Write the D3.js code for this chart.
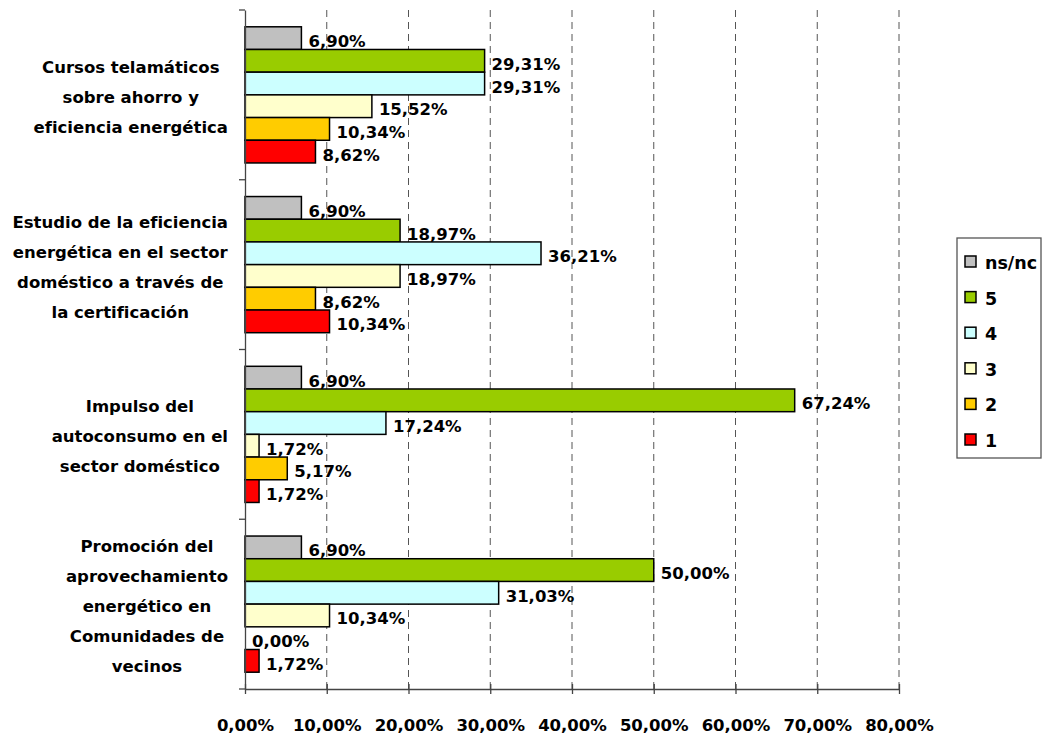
<!DOCTYPE html>
<meta charset="utf-8">
<html lang="es">
<style>

    body {
        margin: 0;
        background: #fff;
        font: bold 16.5px "DejaVu Sans", sans-serif;
    }

    text {
        font-family: "DejaVu Sans", sans-serif;
        font-weight: bold;
        font-size: 16.5px;
        fill: #000;
    }

    .grid line {
        stroke: #555;
        stroke-width: 1;
        stroke-dasharray: 7, 5;
    }

    .bar {
        stroke: #000;
        stroke-width: 1.5px;
    }

</style>

<head>
    <meta charset="UTF-8">
    <script src="https://d3js.org/d3.v7.min.js"></script>
</head>
<body>
<svg width="1043" height="738"></svg>
</body>
<script>

    // categories (top to bottom) and their wrapped label lines
    var categories = ["Cursos", "Estudio", "Impulso", "Promocion"];
    var categoryLines = [
        ["Cursos telamáticos", "sobre ahorro y", "eficiencia energética"],
        ["Estudio de la eficiencia", "energética en el sector", "doméstico a través de", "la certificación"],
        ["Impulso del", "autoconsumo en el", "sector doméstico"],
        ["Promoción del", "aprovechamiento", "energético en", "Comunidades de", "vecinos"]
    ];

    // series, drawn top to bottom inside each group
    var seriesNames = ["ns/nc", "5", "4", "3", "2", "1"];
    var seriesColors = ["#C0C0C0", "#99CC00", "#CCFFFF", "#FFFFCC", "#FFCC00", "#FF0000"];

    // values in %, one array per series, in the order of categories
    var valuesNsnc = [6.90, 6.90, 6.90, 6.90];
    var values5 = [29.31, 18.97, 67.24, 50.00];
    var values4 = [29.31, 36.21, 17.24, 31.03];
    var values3 = [15.52, 18.97, 1.72, 10.34];
    var values2 = [10.34, 8.62, 5.17, 0.00];
    var values1 = [8.62, 10.34, 1.72, 1.72];

    var xTicks = [0, 10, 20, 30, 40, 50, 60, 70, 80];

    var seriesValues = [valuesNsnc, values5, values4, values3, values2, values1];

    var plot = {left: 245, right: 899, top: 10, bottom: 689};

    var x = d3.scaleLinear().domain([0, 80]).range([plot.left, plot.right]);

    var y = d3.scaleBand().domain(categories).range([plot.top, plot.bottom]);

    var yInner = d3.scaleBand().domain(seriesNames)
        .range([0, y.bandwidth()])
        .paddingOuter(0.74)
        .paddingInner(0);

    var color = d3.scaleOrdinal().domain(seriesNames).range(seriesColors);

    var fmt = function (v) {
        return d3.format(".2f")(v).replace(".", ",") + "%";
    };

    var svg = d3.select("svg");

    // gridlines
    svg.append("g")
        .attr("class", "grid")
        .selectAll("line")
        .data(xTicks.filter(function (t) { return t > 0; }))
        .enter().append("line")
        .attr("x1", function (d) { return x(d); })
        .attr("x2", function (d) { return x(d); })
        .attr("y1", plot.top)
        .attr("y2", plot.bottom);

    // bars
    var groups = svg.selectAll(".group")
        .data(categories)
        .enter().append("g")
        .attr("class", "group")
        .attr("transform", function (d) { return "translate(0," + y(d) + ")"; });

    groups.each(function (cat, ci) {
        var g = d3.select(this);
        var rows = seriesNames.map(function (s, si) {
            return {series: s, value: seriesValues[si][ci]};
        });

        g.selectAll("rect")
            .data(rows.filter(function (r) { return r.value > 0; }))
            .enter().append("rect")
            .attr("class", "bar")
            .attr("x", x(0))
            .attr("y", function (d) { return yInner(d.series); })
            .attr("width", function (d) { return x(d.value) - x(0); })
            .attr("height", yInner.bandwidth())
            .style("fill", function (d) { return color(d.series); });

        g.selectAll("text.value")
            .data(rows)
            .enter().append("text")
            .attr("class", "value")
            .attr("x", function (d) { return x(d.value) + 7; })
            .attr("y", function (d) { return yInner(d.series) + yInner.bandwidth() / 2 + 9; })
            .text(function (d) { return fmt(d.value); });
    });

    // left axis
    var yAxis = d3.axisLeft(y).tickValues([]).tickSizeOuter(0);
    svg.append("g")
        .attr("transform", "translate(" + plot.left + ",0)")
        .call(yAxis)
        .call(function (g) { g.select(".domain").attr("stroke", "#444").attr("stroke-width", 1.3); });

    // ticks on group boundaries
    var bounds = categories.map(function (c) { return y(c); }).concat([plot.bottom]);
    svg.append("g").selectAll("line")
        .data(bounds)
        .enter().append("line")
        .attr("x1", plot.left - 6)
        .attr("x2", plot.left)
        .attr("y1", function (d) { return d; })
        .attr("y2", function (d) { return d; })
        .attr("stroke", "#444")
        .attr("stroke-width", 1.3);

    // bottom axis
    var xAxis = d3.axisBottom(x)
        .tickValues(xTicks)
        .tickSize(5)
        .tickSizeOuter(0)
        .tickPadding(25)
        .tickFormat(fmt);

    svg.append("g")
        .attr("transform", "translate(0," + plot.bottom + ")")
        .call(xAxis)
        .call(function (g) {
            g.select(".domain").attr("stroke", "#444").attr("stroke-width", 1.3);
            g.selectAll(".tick line").attr("y1", -5).attr("stroke", "#444").attr("stroke-width", 1.3);
            g.selectAll(".tick text")
                .style("font-family", "'DejaVu Sans', sans-serif")
                .style("font-weight", "bold")
                .style("font-size", "16.5px")
                .attr("fill", "#000");
        });

    // category labels: lines centred within the widest line, block right-aligned
    var lineHeight = 30;
    var labelRight = 228;
    categories.forEach(function (c, ci) {
        var lines = categoryLines[ci];
        var block = svg.append("g");
        var texts = block.selectAll("text")
            .data(lines)
            .enter().append("text")
            .attr("text-anchor", "middle")
            .attr("y", function (d, i) {
                return y(c) + y.bandwidth() / 2 + 2 + (i - (lines.length - 1) / 2) * lineHeight + 6;
            })
            .text(function (d) { return d; });
        var maxW = 0;
        texts.each(function () { maxW = Math.max(maxW, this.getComputedTextLength()); });
        texts.attr("x", labelRight - maxW / 2);
    });

    // legend
    var legend = svg.append("g").attr("class", "legend");
    legend.append("rect")
        .attr("x", 957)
        .attr("y", 238)
        .attr("width", 84)
        .attr("height", 220)
        .attr("fill", "#fff")
        .attr("stroke", "#555")
        .attr("stroke-width", 1.3);

    var item = legend.selectAll(".item")
        .data(seriesNames)
        .enter().append("g")
        .attr("class", "item")
        .attr("transform", function (d, i) { return "translate(965," + (262 + i * 35.6) + ")"; });

    item.append("rect")
        .attr("x", 0)
        .attr("y", -6)
        .attr("width", 11)
        .attr("height", 11)
        .attr("stroke", "#000")
        .attr("stroke-width", 1.5)
        .style("fill", function (d) { return color(d); });

    item.append("text")
        .attr("x", 20)
        .attr("y", 7)
        .style("font-size", "17.5px")
        .text(function (d) { return d; });

</script>

</html>
